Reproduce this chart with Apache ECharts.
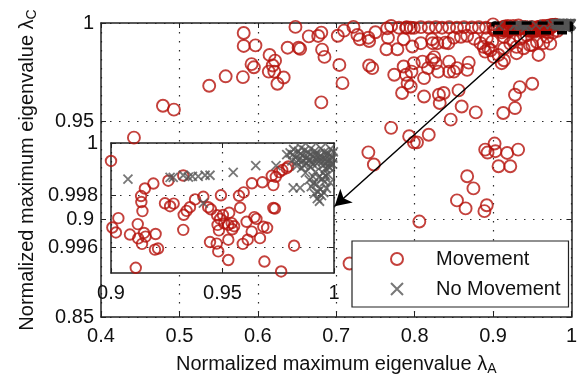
<!DOCTYPE html>
<html>
<head>
<meta charset="utf-8">
<script src="https://cdn.jsdelivr.net/npm/echarts@6/dist/echarts.min.js"></script>
<style>
  html, body { margin: 0; padding: 0; background: #fff; }
  #chart { width: 580px; height: 381px; }
</style>
</head>
<body>
<div id="chart"></div>
<script>
// points outside the zoomed region, [lambdaA, lambdaC]
var mainMovement = [
  [0.442, 0.9415], [0.479, 0.9578], [0.493, 0.9558], [0.538, 0.968], [0.559, 0.9728], [0.581, 0.9724],
  [0.582, 0.9949], [0.582, 0.9883], [0.597, 0.9886], [0.592, 0.979], [0.595, 0.9774], [0.615, 0.9837],
  [0.622, 0.9808], [0.619, 0.9783], [0.614, 0.9752], [0.621, 0.9752], [0.633, 0.9722], [0.625, 0.969],
  [0.638, 0.9874], [0.652, 0.9874], [0.654, 0.9868], [0.648, 0.998], [0.665, 0.9932], [0.677, 0.9934],
  [0.681, 0.9951], [0.682, 0.9864], [0.685, 0.9827], [0.681, 0.9595], [0.702, 0.9935], [0.710, 0.9961],
  [0.722, 0.998], [0.727, 0.9939], [0.730, 0.9917], [0.741, 0.9925], [0.742, 0.9908], [0.750, 0.9953],
  [0.765, 0.9973], [0.770, 0.9985], [0.780, 0.9976], [0.789, 0.9976], [0.795, 0.9976], [0.766, 0.9925],
  [0.786, 0.9917], [0.764, 0.9866], [0.778, 0.9866], [0.797, 0.988], [0.704, 0.9786], [0.742, 0.9783],
  [0.746, 0.977], [0.708, 0.9693], [0.774, 0.9736], [0.786, 0.9778], [0.789, 0.9736], [0.791, 0.9693],
  [0.784, 0.9643], [0.795, 0.9676], [0.770, 0.9465], [0.793, 0.9422], [0.808, 0.9897], [0.822, 0.9917],
  [0.823, 0.9897], [0.829, 0.9897], [0.839, 0.99], [0.843, 0.9897], [0.799, 0.9795], [0.796, 0.9752],
  [0.812, 0.9719], [0.822, 0.9812], [0.825, 0.9826], [0.827, 0.9795], [0.817, 0.977], [0.830, 0.9752],
  [0.844, 0.9803], [0.844, 0.9752], [0.854, 0.977], [0.867, 0.9761], [0.869, 0.9798], [0.812, 0.9625],
  [0.831, 0.9634], [0.837, 0.9643], [0.832, 0.9592], [0.856, 0.9656], [0.860, 0.9574], [0.878, 0.9544],
  [0.846, 0.9507], [0.799, 0.9391], [0.803, 0.9391], [0.818, 0.943], [0.741, 0.934], [0.748, 0.9278],
  [0.867, 0.9218], [0.875, 0.9156], [0.890, 0.9354], [0.902, 0.9385], [0.903, 0.9346], [0.918, 0.9337],
  [0.932, 0.9354], [0.907, 0.9269], [0.922, 0.9269], [0.913, 0.9541], [0.928, 0.9634], [0.928, 0.9566],
  [0.934, 0.9673], [0.950, 0.969], [0.958, 0.9837], [0.930, 0.9846], [0.911, 0.9795], [0.890, 0.9854],
  [0.884, 0.9897], [0.810, 0.9803], [0.850, 0.9752], [0.894, 0.9871], [0.907, 0.9837], [0.964, 0.9897],
  [0.950, 0.9888], [0.939, 0.9871], [0.899, 0.9905], [0.892, 0.9922], [0.893, 0.9339], [0.854, 0.9095],
  [0.865, 0.9054], [0.892, 0.907], [0.889, 0.904], [0.806, 0.8987], [0.717, 0.8773],
  [0.790, 0.9978], [0.799, 0.9975], [0.808, 0.9979], [0.818, 0.9977], [0.827, 0.9979], [0.835, 0.9976],
  [0.844, 0.9978], [0.854, 0.9976], [0.863, 0.9979], [0.873, 0.9977], [0.882, 0.9978], [0.891, 0.9976],
  [0.850, 0.9925], [0.859, 0.993], [0.867, 0.9935], [0.876, 0.992], [0.888, 0.9878], [0.897, 0.9861],
  [0.914, 0.987], [0.922, 0.9895], [0.930, 0.9878], [0.947, 0.9887], [0.901, 0.9827], [0.914, 0.981],
  [0.914, 0.9929], [0.926, 0.9912], [0.935, 0.992], [0.943, 0.9937], [0.956, 0.9903], [0.969, 0.9929],
  [0.973, 0.9895]
];

// points inside the zoomed box (shown in the inset)
var zoomMovement = [
  [0.9, 0.99931], [0.9190, 0.99844], [0.9152, 0.99825], [0.9135, 0.99796], [0.9136, 0.99773],
  [0.9141, 0.99738], [0.9033, 0.99711], [0.9006, 0.99675], [0.9022, 0.99656], [0.9085, 0.99648],
  [0.9120, 0.99688], [0.9122, 0.99633], [0.9148, 0.99654], [0.9155, 0.9964], [0.9139, 0.99612],
  [0.9200, 0.9965], [0.9197, 0.9959], [0.9211, 0.99594], [0.9111, 0.9952], [0.9242, 0.99768],
  [0.9265, 0.99757], [0.9281, 0.99767], [0.9257, 0.99855], [0.9324, 0.99666], [0.9326, 0.99724],
  [0.9339, 0.99739], [0.9354, 0.99753], [0.9377, 0.99783], [0.9414, 0.99793], [0.9436, 0.99753],
  [0.9448, 0.99745], [0.9476, 0.99722], [0.9489, 0.99708], [0.9478, 0.99685], [0.9484, 0.99664],
  [0.9444, 0.99619], [0.9474, 0.99613], [0.9481, 0.99583], [0.9526, 0.9955], [0.9493, 0.99799],
  [0.9530, 0.99732], [0.9502, 0.99723], [0.9508, 0.99691], [0.9526, 0.99685], [0.9541, 0.99692],
  [0.9552, 0.9968], [0.9544, 0.99668], [0.9579, 0.99751], [0.9574, 0.99797], [0.9595, 0.9981],
  [0.9632, 0.99845], [0.9679, 0.99849], [0.9721, 0.99874], [0.9728, 0.99838], [0.9739, 0.9987],
  [0.9755, 0.99888], [0.9768, 0.99896], [0.9788, 0.99903], [0.9795, 0.9991], [0.9735, 0.99748],
  [0.9728, 0.9975], [0.9608, 0.99697], [0.9643, 0.99715], [0.9652, 0.99708], [0.9631, 0.99659],
  [0.9683, 0.99678], [0.9700, 0.99674], [0.9668, 0.99634], [0.9591, 0.99612], [0.9613, 0.99628],
  [0.9688, 0.99544], [0.9763, 0.99506], [0.9821, 0.99605], [0.9526, 0.99628], [0.9324, 0.99875]
];

var zoomNoMovement = [
  [0.9076, 0.99861], [0.9265, 0.99868], [0.9279, 0.99868], [0.9324, 0.99876], [0.9347, 0.99869],
  [0.9365, 0.99872], [0.9391, 0.99872], [0.9422, 0.99876], [0.9444, 0.99876], [0.9414, 0.99769],
  [0.9548, 0.99887], [0.9649, 0.99913], [0.9740, 0.99913], [0.9788, 0.99955], [0.9817, 0.99827],
  [0.9848, 0.99827],
  [0.9803, 0.99962], [0.9811, 0.99931], [0.9819, 0.99975], [0.9828, 0.99944], [0.9834, 0.99912],
  [0.9841, 0.99968], [0.9846, 0.99938], [0.9853, 0.99981], [0.9858, 0.99952], [0.9864, 0.99915],
  [0.9869, 0.99973], [0.9875, 0.99941], [0.9878, 0.99922], [0.9886, 0.99964], [0.9891, 0.99934],
  [0.9896, 0.99978], [0.9903, 0.99951], [0.9907, 0.99918], [0.9913, 0.99969], [0.9918, 0.99937],
  [0.9924, 0.99921], [0.9929, 0.99958], [0.9936, 0.99932], [0.9941, 0.99979], [0.9946, 0.99948],
  [0.9952, 0.99914], [0.9957, 0.99966], [0.9963, 0.99939], [0.9968, 0.99924], [0.9973, 0.99961],
  [0.9979, 0.99935], [0.9984, 0.99977], [0.9988, 0.99949], [0.9993, 0.99919], [0.9997, 0.99966],
  [0.9982, 0.99905], [0.9961, 0.99902],
  [0.9815, 0.99955], [0.9832, 0.99926], [0.9849, 0.99958], [0.9861, 0.99931], [0.9882, 0.99947],
  [0.9899, 0.99925], [0.9916, 0.99955], [0.9933, 0.99945], [0.9949, 0.99928], [0.9966, 0.99952],
  [0.9981, 0.99921], [0.9995, 0.99942], [0.9855, 0.99904], [0.9893, 0.99908], [0.9975, 0.99909],
  [0.9872, 0.99885], [0.9889, 0.99858], [0.9898, 0.99832], [0.9906, 0.99871], [0.9912, 0.99805],
  [0.9921, 0.99843], [0.9925, 0.99786], [0.9931, 0.99868], [0.9939, 0.99822], [0.9944, 0.99798],
  [0.9951, 0.99885], [0.9958, 0.99851], [0.9966, 0.99826], [0.9974, 0.99878], [0.9983, 0.99848],
  [0.9935, 0.99776], [0.9917, 0.99889], [0.9928, 0.99812], [0.9947, 0.99862], [0.9962, 0.99874],
  [0.9909, 0.99846], [0.9954, 0.99809]
];

// zoom box outline in the main axes and the arrow pointing to the inset
var zoomBoxX = [0.9, 1, 1, 0.9, 0.9];
var zoomBoxY = [0.995, 0.995, 1, 1, 0.995];
var arrowFrom = [0.943, 0.9945];
var arrowTo = [0.698, 0.9065];

var insetYTicks = [0.996, 0.998, 1];

var FONT = '"Liberation Sans", Arial, sans-serif';
var RED = '#b5120b';
var GREY = '#555555';
var INK = '#111';

var myChart = echarts.init(document.getElementById('chart'));

function fmt (v) {
  return String(+v.toFixed(4));
}

var dotted = { show: true, lineStyle: { color: '#2a2a2a', width: 1.2, type: [1.5, 7.5] } };
var edge = { show: true, onZero: false, lineStyle: { color: '#222', width: 1.5 } };
var tick = { show: true, inside: true, length: 5, lineStyle: { color: '#222', width: 1 } };
var label = { fontSize: 20, color: INK, fontFamily: FONT };
var titleRich = {
  t: { fontSize: 20, color: INK, fontFamily: FONT },
  s: { fontSize: 14, color: INK, fontFamily: FONT, padding: [10, 0, 0, 0] }
};

var boxLine = [];
zoomBoxX.forEach(function (x, i) {
  boxLine.push([x, zoomBoxY[i]]);
});

var circleStyle = { color: 'rgba(0,0,0,0)', borderColor: RED, borderWidth: 1.9 };
var crossStyle = { color: 'rgba(0,0,0,0)', borderColor: GREY, borderWidth: 1.8 };
var crossPath = 'path://M0,0L10,10M10,0L0,10';

var option = {
  animation: false,
  backgroundColor: '#fff',
  grid: [
    { left: 101, top: 23, width: 472, height: 295, show: false },
    { left: 111, top: 143, width: 223, height: 130, show: true, backgroundColor: '#fff', borderWidth: 0, z: 5 }
  ],
  legend: {
    orient: 'vertical',
    left: 352,
    top: 241,
    padding: [8, 8, 8, 38],
    itemGap: 10,
    itemWidth: 12,
    itemHeight: 12,
    backgroundColor: '#fff',
    borderColor: '#222',
    borderWidth: 1.2,
    z: 20,
    textStyle: { fontSize: 20, lineHeight: 20, color: INK, fontFamily: FONT, padding: [0, 0, 0, 28] },
    data: [
      { name: 'Movement', icon: 'circle' },
      { name: 'No Movement', icon: crossPath }
    ]
  },
  xAxis: [
    {
      gridIndex: 0, type: 'value', min: 0.4, max: 1, interval: 0.1, position: 'bottom',
      axisLine: edge, axisTick: tick, splitLine: dotted,
      axisLabel: Object.assign({ margin: 9, formatter: fmt }, label),
      name: '{t|Normalized maximum eigenvalue λ}{s|A}',
      nameLocation: 'middle', nameGap: 35,
      nameTextStyle: { rich: titleRich }
    },
    {
      gridIndex: 0, type: 'value', min: 0.4, max: 1, interval: 0.1, position: 'top',
      axisLine: edge, axisTick: tick, splitLine: { show: false }, axisLabel: { show: false }
    },
    {
      gridIndex: 1, type: 'value', min: 0.9, max: 1, interval: 0.05, position: 'bottom', z: 6,
      axisLine: edge, axisTick: tick, splitLine: dotted,
      axisLabel: Object.assign({ margin: 10, formatter: fmt }, label)
    },
    {
      gridIndex: 1, type: 'value', min: 0.9, max: 1, interval: 0.05, position: 'top', z: 6,
      axisLine: edge, axisTick: tick, splitLine: { show: false }, axisLabel: { show: false }
    }
  ],
  yAxis: [
    {
      gridIndex: 0, type: 'value', min: 0.85, max: 1, interval: 0.05, position: 'left',
      axisLine: edge, axisTick: tick, splitLine: dotted,
      axisLabel: Object.assign({ margin: 7, formatter: fmt }, label),
      name: '{t|Normalized maximum eigenvalue λ}{s|C}',
      nameLocation: 'middle', nameGap: 62,
      nameTextStyle: { rich: titleRich }
    },
    {
      gridIndex: 0, type: 'value', min: 0.85, max: 1, interval: 0.05, position: 'right',
      axisLine: edge, axisTick: tick, splitLine: { show: false }, axisLabel: { show: false }
    },
    {
      gridIndex: 1, type: 'value', min: 0.995, max: 1, position: 'left', z: 6,
      axisLine: edge,
      axisTick: Object.assign({ customValues: insetYTicks }, tick),
      splitLine: dotted,
      axisLabel: Object.assign({ margin: 13, formatter: fmt, customValues: insetYTicks }, label)
    },
    {
      gridIndex: 1, type: 'value', min: 0.995, max: 1, position: 'right', z: 6,
      axisLine: edge,
      axisTick: Object.assign({ customValues: insetYTicks }, tick),
      splitLine: { show: false }, axisLabel: { show: false }
    }
  ],
  series: [
    {
      name: 'Movement', type: 'scatter', xAxisIndex: 0, yAxisIndex: 0, z: 6,
      symbol: 'circle', symbolSize: 12, itemStyle: circleStyle,
      data: mainMovement.concat(zoomMovement)
    },
    {
      name: 'No Movement', type: 'scatter', xAxisIndex: 0, yAxisIndex: 0, z: 6,
      symbol: crossPath, symbolSize: 9, itemStyle: crossStyle,
      data: zoomNoMovement
    },
    {
      type: 'line', xAxisIndex: 0, yAxisIndex: 0, z: 9, silent: true,
      symbol: 'none',
      lineStyle: { color: '#000', width: 3.5, type: [10, 6] },
      data: boxLine,
      markLine: {
        z: 12, silent: true,
        symbol: ['none', 'arrow'], symbolSize: [14, 16],
        label: { show: false },
        lineStyle: { color: '#000', width: 1.5, type: 'solid' },
        data: [[{ coord: arrowFrom }, { coord: arrowTo }]]
      }
    },
    {
      name: 'Movement', type: 'scatter', xAxisIndex: 2, yAxisIndex: 2, z: 7,
      symbol: 'circle', symbolSize: 10.5, itemStyle: circleStyle,
      data: zoomMovement
    },
    {
      name: 'No Movement', type: 'scatter', xAxisIndex: 2, yAxisIndex: 2, z: 8,
      symbol: crossPath, symbolSize: 9, itemStyle: crossStyle,
      data: zoomNoMovement
    }
  ]
};

myChart.setOption(option);
</script>
</body>
</html>
